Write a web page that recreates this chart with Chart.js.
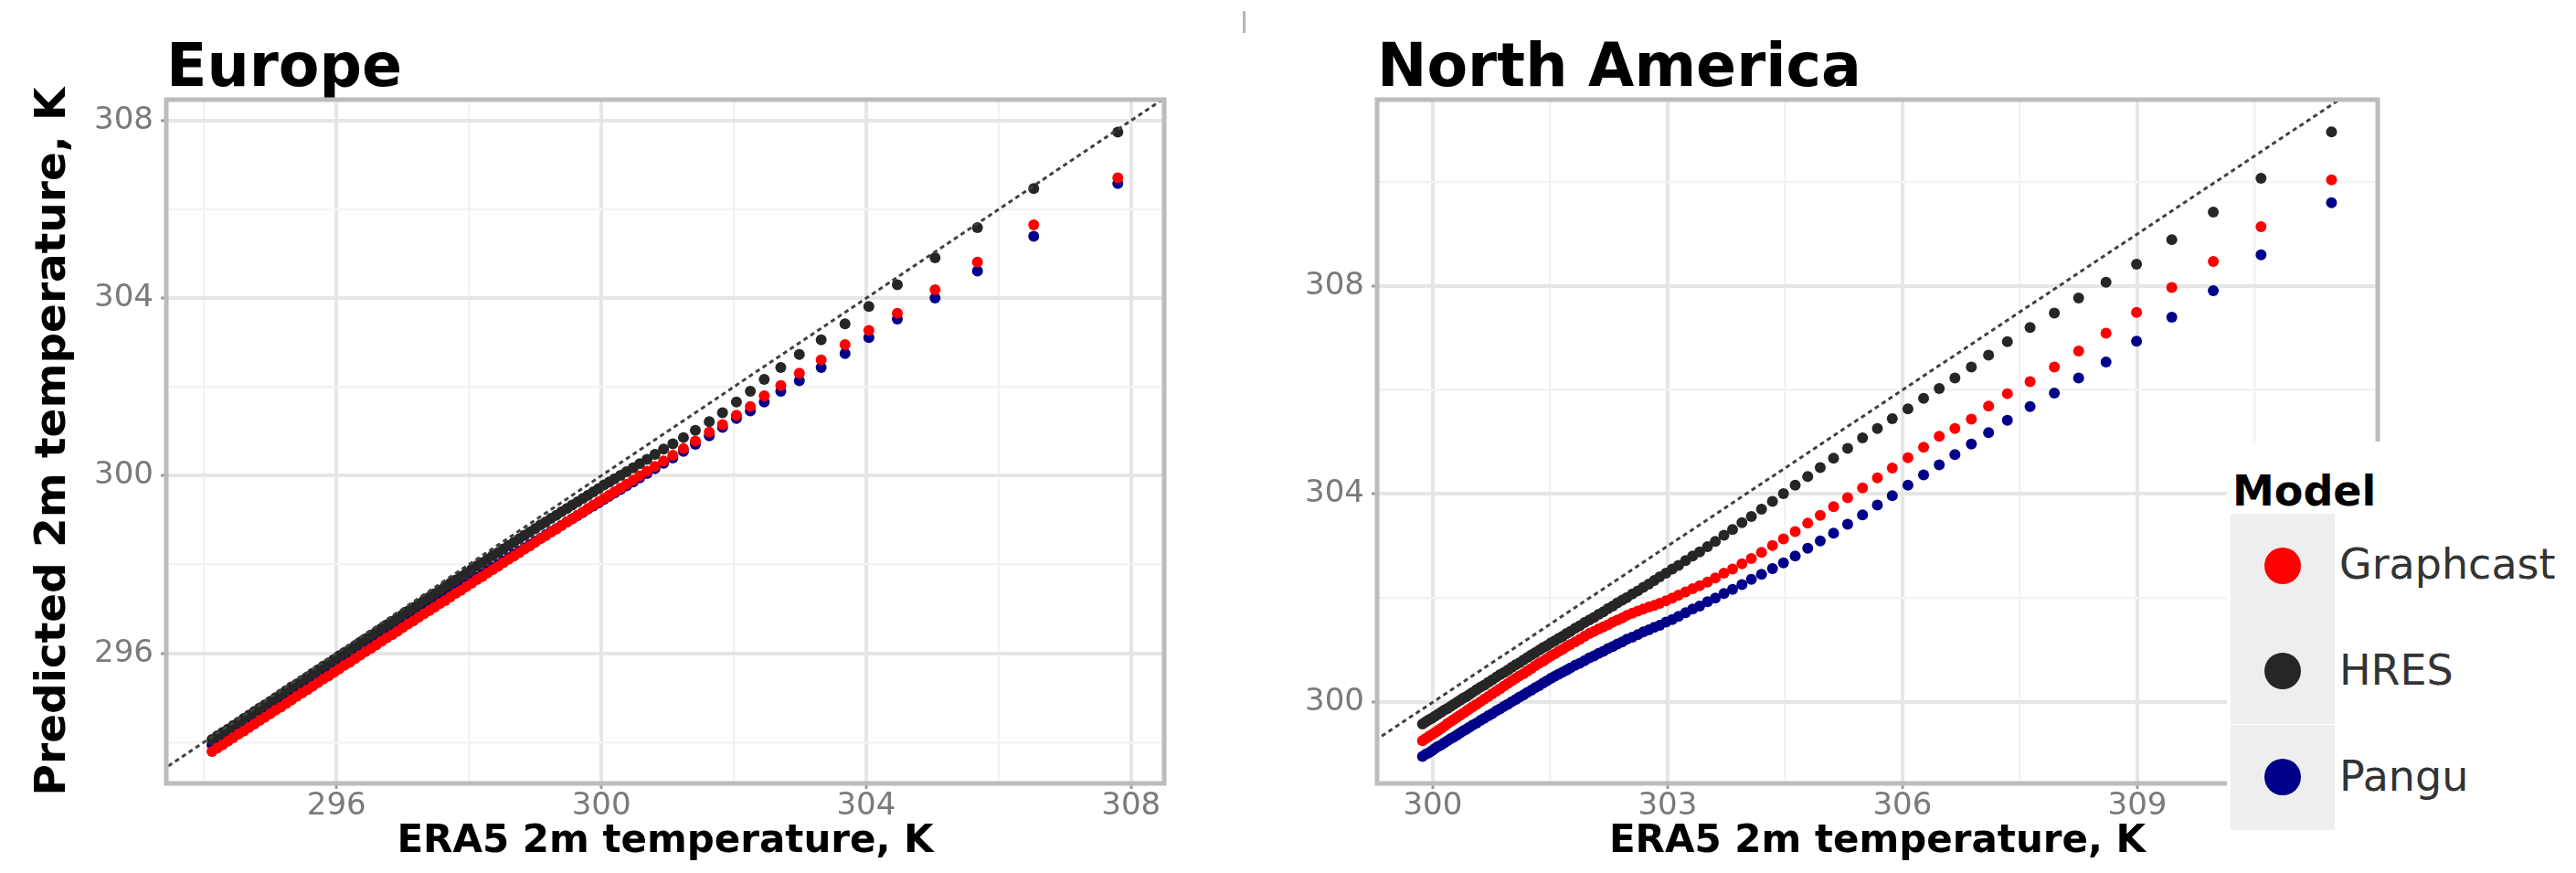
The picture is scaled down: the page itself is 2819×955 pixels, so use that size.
<!DOCTYPE html>
<html>
<head>
<meta charset="utf-8">
<title>ERA5 vs predicted 2m temperature</title>
<script src="https://cdn.jsdelivr.net/npm/chart.js@4.4.1/dist/chart.umd.min.js"></script>
<style>
  body { margin: 0; background: #fff; width: 2819px; height: 955px; position: relative; overflow: hidden; font-family: 'DejaVu Sans', sans-serif; }
  canvas { position: absolute; top: 0; }
  #euChart { left: 0; }
  #naChart { left: 1300px; }
  #legend { position: absolute; left: 2437px; top: 483px; width: 382px; height: 472px; background: #fff; }
  #legend .title { position: absolute; left: 6px; top: 31px; font-size: 46px; line-height: 46px; font-weight: bold; color: #000; }
  #legend .key { position: absolute; left: 4px; width: 114px; height: 115px; background: #eeeeee; }
  #legend .dot { position: absolute; left: 37px; top: 37px; width: 40px; height: 40px; border-radius: 50%; }
  #legend .label { position: absolute; left: 123px; font-size: 46px; line-height: 46px; color: #333; }
  #mark { position: absolute; left: 1360px; top: 12px; width: 3px; height: 24px; background: #b5b5b5; }
</style>
</head>
<body>
<canvas id="euChart" width="1290" height="955"></canvas>
<canvas id="naChart" width="1519" height="955"></canvas>
<div id="mark"></div>
<div id="legend">
  <div class="title">Model</div>
  <div class="key" style="top:79px"><div class="dot" style="background:#ff0000"></div></div>
  <div class="label" style="top:111px">Graphcast</div>
  <div class="key" style="top:194px"><div class="dot" style="background:#262626"></div></div>
  <div class="label" style="top:227px">HRES</div>
  <div class="key" style="top:310px"><div class="dot" style="background:#00008b"></div></div>
  <div class="label" style="top:343px">Pangu</div>
</div>
<script>
// ---- data: ERA5 quantiles (x) and model quantiles (y) ----

const models = ['Graphcast', 'HRES', 'Pangu'];
const modelColors = ['#ff0000', '#262626', '#00008b'];

// Europe
const euX = [294.12, 294.20, 294.28, 294.36, 294.44, 294.52, 294.60, 294.68, 294.76, 294.84,
  294.92, 295.00, 295.08, 295.16, 295.24, 295.32, 295.40, 295.48, 295.56, 295.64,
  295.72, 295.80, 295.88, 295.96, 296.04, 296.12, 296.20, 296.28, 296.36, 296.44,
  296.52, 296.60, 296.68, 296.76, 296.84, 296.92, 297.00, 297.08, 297.16, 297.24,
  297.32, 297.40, 297.48, 297.56, 297.64, 297.72, 297.80, 297.88, 297.96, 298.04,
  298.12, 298.20, 298.28, 298.36, 298.44, 298.52, 298.60, 298.68, 298.76, 298.84,
  298.92, 299.00, 299.08, 299.16, 299.24, 299.32, 299.40, 299.48, 299.56, 299.64,
  299.72, 299.80, 299.88, 299.96, 300.04, 300.12, 300.20, 300.29, 300.38, 300.48,
  300.58, 300.69, 300.81, 300.94, 301.08, 301.24, 301.42, 301.63, 301.83, 302.04,
  302.25, 302.46, 302.71, 302.99, 303.32, 303.68, 304.04, 304.47, 305.04, 305.68,
  306.53, 307.80];
const euHres = [294.06, 294.14, 294.22, 294.29, 294.37, 294.45, 294.53, 294.61, 294.69, 294.77,
  294.84, 294.92, 295.00, 295.08, 295.16, 295.24, 295.31, 295.39, 295.47, 295.55,
  295.63, 295.71, 295.78, 295.86, 295.94, 296.02, 296.09, 296.17, 296.25, 296.33,
  296.41, 296.48, 296.56, 296.64, 296.72, 296.80, 296.87, 296.95, 297.03, 297.11,
  297.19, 297.26, 297.34, 297.42, 297.50, 297.58, 297.65, 297.73, 297.81, 297.89,
  297.97, 298.04, 298.12, 298.20, 298.27, 298.35, 298.43, 298.50, 298.58, 298.66,
  298.73, 298.81, 298.89, 298.96, 299.04, 299.11, 299.19, 299.26, 299.34, 299.41,
  299.49, 299.56, 299.64, 299.71, 299.79, 299.86, 299.93, 300.01, 300.09, 300.18,
  300.27, 300.37, 300.48, 300.60, 300.72, 300.86, 301.02, 301.22, 301.42, 301.66,
  301.90, 302.17, 302.44, 302.73, 303.06, 303.42, 303.81, 304.30, 304.91, 305.59,
  306.47, 307.74];
const euGraphcast = [293.79, 293.87, 293.94, 294.02, 294.10, 294.18, 294.25, 294.33, 294.41, 294.49,
  294.56, 294.64, 294.72, 294.79, 294.87, 294.95, 295.03, 295.11, 295.18, 295.26,
  295.34, 295.42, 295.49, 295.57, 295.65, 295.73, 295.80, 295.88, 295.96, 296.04,
  296.11, 296.19, 296.27, 296.35, 296.42, 296.50, 296.58, 296.66, 296.73, 296.81,
  296.89, 296.96, 297.04, 297.12, 297.19, 297.27, 297.35, 297.42, 297.50, 297.58,
  297.66, 297.73, 297.81, 297.89, 297.96, 298.04, 298.12, 298.19, 298.27, 298.35,
  298.42, 298.50, 298.58, 298.65, 298.73, 298.80, 298.88, 298.96, 299.03, 299.11,
  299.18, 299.26, 299.34, 299.41, 299.49, 299.56, 299.64, 299.72, 299.81, 299.90,
  300.00, 300.10, 300.21, 300.33, 300.46, 300.61, 300.78, 300.98, 301.15, 301.36,
  301.56, 301.80, 302.03, 302.31, 302.61, 302.95, 303.27, 303.66, 304.19, 304.81,
  305.65, 306.71];
const euPangu = [293.94, 294.02, 294.09, 294.17, 294.25, 294.32, 294.40, 294.47, 294.55, 294.63,
  294.70, 294.78, 294.86, 294.93, 295.01, 295.08, 295.16, 295.24, 295.31, 295.39,
  295.46, 295.54, 295.62, 295.69, 295.77, 295.84, 295.92, 295.99, 296.07, 296.14,
  296.22, 296.29, 296.37, 296.44, 296.52, 296.59, 296.67, 296.74, 296.82, 296.89,
  296.97, 297.04, 297.12, 297.19, 297.27, 297.34, 297.41, 297.49, 297.56, 297.64,
  297.71, 297.78, 297.86, 297.93, 298.00, 298.08, 298.15, 298.23, 298.30, 298.37,
  298.45, 298.52, 298.59, 298.67, 298.74, 298.81, 298.88, 298.96, 299.03, 299.10,
  299.17, 299.25, 299.32, 299.39, 299.47, 299.54, 299.61, 299.69, 299.77, 299.86,
  299.95, 300.05, 300.16, 300.28, 300.40, 300.55, 300.71, 300.90, 301.09, 301.29,
  301.46, 301.66, 301.90, 302.14, 302.44, 302.75, 303.11, 303.53, 304.00, 304.61,
  305.39, 306.58];

// North America
const naX = [299.87, 299.91, 299.95, 299.99, 300.03, 300.07, 300.11, 300.15, 300.19, 300.23,
  300.27, 300.31, 300.35, 300.39, 300.43, 300.47, 300.51, 300.56, 300.61, 300.66,
  300.71, 300.76, 300.81, 300.86, 300.91, 300.96, 301.01, 301.06, 301.11, 301.16,
  301.21, 301.26, 301.31, 301.36, 301.41, 301.46, 301.51, 301.56, 301.61, 301.66,
  301.71, 301.76, 301.82, 301.88, 301.94, 302.00, 302.06, 302.12, 302.18, 302.24,
  302.30, 302.36, 302.42, 302.48, 302.55, 302.62, 302.69, 302.76, 302.83, 302.90,
  302.98, 303.06, 303.14, 303.23, 303.32, 303.41, 303.51, 303.61, 303.72, 303.83,
  303.95, 304.07, 304.20, 304.34, 304.48, 304.63, 304.79, 304.95, 305.12, 305.30,
  305.49, 305.68, 305.87, 306.07, 306.27, 306.47, 306.67, 306.88, 307.10, 307.34,
  307.63, 307.94, 308.25, 308.60, 308.99, 309.44, 309.97, 310.58, 311.48];
const naHres = [299.58, 299.62, 299.66, 299.69, 299.73, 299.77, 299.81, 299.85, 299.88, 299.92,
  299.96, 300.00, 300.04, 300.08, 300.11, 300.15, 300.19, 300.24, 300.29, 300.33,
  300.38, 300.43, 300.48, 300.53, 300.57, 300.62, 300.67, 300.72, 300.76, 300.81,
  300.86, 300.91, 300.95, 301.00, 301.05, 301.09, 301.14, 301.18, 301.23, 301.27,
  301.32, 301.36, 301.42, 301.47, 301.53, 301.58, 301.63, 301.69, 301.74, 301.80,
  301.85, 301.91, 301.96, 302.01, 302.08, 302.14, 302.21, 302.27, 302.34, 302.41,
  302.48, 302.56, 302.63, 302.72, 302.81, 302.89, 302.99, 303.09, 303.21, 303.32,
  303.45, 303.57, 303.71, 303.86, 304.01, 304.17, 304.34, 304.51, 304.69, 304.88,
  305.08, 305.26, 305.45, 305.64, 305.84, 306.03, 306.23, 306.44, 306.67, 306.93,
  307.20, 307.48, 307.77, 308.07, 308.42, 308.89, 309.42, 310.07, 310.96];
const naGraphcast = [299.26, 299.30, 299.34, 299.38, 299.42, 299.46, 299.50, 299.54, 299.59, 299.63,
  299.67, 299.71, 299.75, 299.79, 299.83, 299.87, 299.91, 299.96, 300.01, 300.06,
  300.11, 300.16, 300.21, 300.26, 300.31, 300.36, 300.41, 300.46, 300.51, 300.55,
  300.60, 300.65, 300.70, 300.75, 300.79, 300.84, 300.89, 300.93, 300.98, 301.02,
  301.07, 301.11, 301.16, 301.21, 301.27, 301.32, 301.36, 301.41, 301.45, 301.49,
  301.54, 301.58, 301.62, 301.67, 301.71, 301.75, 301.79, 301.83, 301.86, 301.90,
  301.95, 302.00, 302.06, 302.12, 302.18, 302.24, 302.31, 302.39, 302.48, 302.56,
  302.66, 302.76, 302.88, 303.01, 303.14, 303.28, 303.44, 303.59, 303.76, 303.93,
  304.12, 304.31, 304.50, 304.70, 304.90, 305.11, 305.26, 305.44, 305.69, 305.93,
  306.16, 306.44, 306.75, 307.09, 307.49, 307.97, 308.47, 309.14, 310.04];
const naPangu = [298.96, 299.00, 299.03, 299.07, 299.11, 299.15, 299.18, 299.22, 299.26, 299.30,
  299.33, 299.37, 299.41, 299.45, 299.48, 299.52, 299.56, 299.60, 299.65, 299.69,
  299.74, 299.78, 299.83, 299.87, 299.92, 299.96, 300.01, 300.05, 300.10, 300.14,
  300.19, 300.23, 300.28, 300.32, 300.37, 300.41, 300.46, 300.50, 300.54, 300.58,
  300.62, 300.66, 300.71, 300.75, 300.80, 300.85, 300.89, 300.94, 300.98, 301.03,
  301.07, 301.12, 301.16, 301.21, 301.25, 301.30, 301.35, 301.39, 301.44, 301.48,
  301.54, 301.59, 301.65, 301.72, 301.79, 301.85, 301.93, 302.00, 302.09, 302.17,
  302.26, 302.36, 302.46, 302.57, 302.68, 302.81, 302.96, 303.10, 303.25, 303.42,
  303.60, 303.79, 303.97, 304.17, 304.37, 304.56, 304.76, 304.96, 305.18, 305.42,
  305.68, 305.94, 306.23, 306.54, 306.94, 307.40, 307.91, 308.60, 309.60];

// axis ranges and ticks
const euXRange = [293.43, 308.50];
const euYRange = [293.07, 308.47];
const euXMajor = [296, 300, 304, 308];
const euXMinor = [294, 298, 302, 306];
const euYMajor = [296, 300, 304, 308];
const euYMinor = [294, 298, 302, 306];

const naXRange = [299.29, 312.07];
const naYRange = [298.44, 311.58];
const naXMajor = [300, 303, 306, 309];
const naXMinor = [301.5, 304.5, 307.5, 310.5];
const naYMajor = [300, 304, 308];
const naYMinor = [302, 306, 310];

// y = x reference line end points
const diagLine = [285, 320];

Chart.defaults.font.family = "'DejaVu Sans', sans-serif";
Chart.defaults.animation = false;

// grey border round the plotting area, like ggplot's panel border
const panelBorder = {
  id: 'panelBorder',
  afterDatasetsDraw(chart) {
    const a = chart.chartArea;
    const ctx = chart.ctx;
    ctx.save();
    ctx.strokeStyle = '#bcbcbc';
    ctx.lineWidth = 5;
    ctx.strokeRect(a.left, a.top, a.right - a.left, a.bottom - a.top);
    ctx.restore();
  }
};

function buildAxis(range, major, minor, title, fitSize, horizontal) {
  const all = major.concat(minor).sort((a, b) => a - b);
  const axis = {
    type: 'linear',
    min: range[0],
    max: range[1],
    afterBuildTicks: function (scale) {
      scale.ticks = all.map(v => ({ value: v }));
    },
    afterFit: function (scale) {
      if (horizontal) scale.height = fitSize; else scale.width = fitSize;
    },
    border: { display: false },
    grid: {
      color: ctx => major.includes(ctx.tick.value) ? '#e6e6e6' : '#f3f3f3',
      lineWidth: ctx => major.includes(ctx.tick.value) ? 4 : 2.5,
      tickColor: ctx => major.includes(ctx.tick.value) ? '#9a9a9a' : 'rgba(0,0,0,0)',
      tickLength: 6,
      tickWidth: 3
    },
    ticks: {
      autoSkip: false,
      maxRotation: 0,
      color: '#7a7a7a',
      padding: horizontal ? 2 : 8,
      font: { size: 34, lineHeight: 1 },
      callback: v => major.includes(v) ? String(v) : ''
    },
    title: { display: false }
  };
  if (title) {
    // the y title is set a little larger than the x title, as in the picture
    axis.title = {
      display: true,
      text: title,
      color: '#000',
      font: { size: horizontal ? 42 : 47, weight: 'bold', lineHeight: 1.2 },
      padding: horizontal ? { top: 0, bottom: 9 } : { top: 31, bottom: 0 }
    };
  }
  return axis;
}

function makePanel(canvasId, cfg) {
  const datasets = [];
  // reference line on top of the points
  datasets.push({
    label: 'y = x',
    data: diagLine.map(v => ({ x: v, y: v })),
    showLine: true,
    borderColor: '#404040',
    borderWidth: 3,
    borderDash: [5, 4],
    pointRadius: 0,
    clip: 0,
    order: 0
  });
  const series = [cfg.graphcast, cfg.hres, cfg.pangu];
  const drawOrder = [1, 2, 3];
  series.forEach(function (ys, m) {
    datasets.push({
      label: models[m],
      data: cfg.x.map((x, i) => ({ x: x, y: ys[i] })),
      backgroundColor: modelColors[m],
      pointBackgroundColor: modelColors[m],
      pointBorderWidth: 0,
      pointRadius: 6,
      pointHoverRadius: 6,
      clip: 0,
      order: drawOrder[m]
    });
  });

  const ctx = document.getElementById(canvasId).getContext('2d');
  return new Chart(ctx, {
    type: 'scatter',
    data: { datasets: datasets },
    options: {
      responsive: false,
      devicePixelRatio: 1,
      events: [],
      layout: { padding: { top: 45, right: cfg.padRight, bottom: 0, left: 0 } },
      plugins: {
        legend: { display: false },
        tooltip: { enabled: false },
        title: {
          display: true,
          text: cfg.title,
          align: 'start',
          fullSize: false,
          color: '#000',
          font: { size: 65, weight: 'bold', lineHeight: 1 },
          padding: { top: 0, bottom: -1 }
        }
      },
      scales: {
        x: buildAxis(cfg.xRange, cfg.xMajor, cfg.xMinor, 'ERA5 2m temperature, K', 98, true),
        y: buildAxis(cfg.yRange, cfg.yMajor, cfg.yMinor, cfg.yTitle, cfg.yWidth, false)
      }
    },
    plugins: [panelBorder]
  });
}

makePanel('euChart', {
  title: 'Europe',
  x: euX, graphcast: euGraphcast, hres: euHres, pangu: euPangu,
  xRange: euXRange, yRange: euYRange,
  xMajor: euXMajor, xMinor: euXMinor, yMajor: euYMajor, yMinor: euYMinor,
  yTitle: 'Predicted 2m temperature, K',
  yWidth: 182,
  padRight: 16
});

makePanel('naChart', {
  title: 'North America',
  x: naX, graphcast: naGraphcast, hres: naHres, pangu: naPangu,
  xRange: naXRange, yRange: naYRange,
  xMajor: naXMajor, xMinor: naXMinor, yMajor: naYMajor, yMinor: naYMinor,
  yTitle: null,
  yWidth: 207,
  padRight: 217
});
</script>
</body>
</html>
